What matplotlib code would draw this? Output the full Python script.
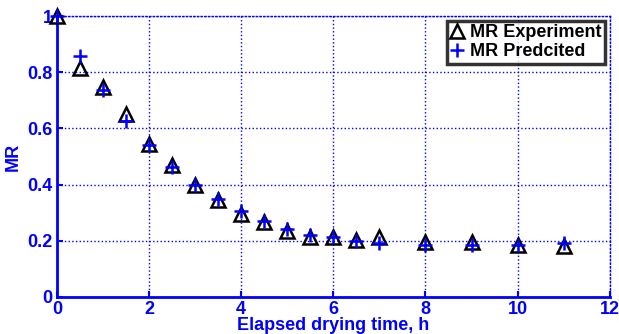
import matplotlib.pyplot as plt
import numpy as np

plt.rcParams['font.family'] = ['Liberation Sans', 'DejaVu Sans']
plt.rcParams['font.weight'] = 'bold'

#%% data
time_h = [0, 0.5, 1, 1.5, 2, 2.5, 3, 3.5, 4, 4.5, 5, 5.5, 6, 6.5, 7, 8, 9, 10, 11]
mr_exp = [1.0, 0.814, 0.746, 0.653, 0.543, 0.468, 0.40, 0.344, 0.296, 0.265,
          0.236, 0.215, 0.215, 0.204, 0.214, 0.196, 0.195, 0.186, 0.182]
mr_pred = [1.0, 0.857, 0.737, 0.625, 0.540, 0.464, 0.40, 0.350, 0.305, 0.270,
           0.243, 0.221, 0.212, 0.198, 0.193, 0.186, 0.186, 0.186, 0.193]

blue = '#0000FF'

fig = plt.figure(figsize=(6.19, 3.34), dpi=100)
ax = fig.add_axes([0.092, 0.111, 0.893, 0.841])

ax.plot(time_h, mr_exp, linestyle='none', marker='^', markersize=10,
        markerfacecolor='none', markeredgecolor='k', markeredgewidth=1.8,
        label='MR Experiment', clip_on=False, zorder=3)
ax.plot(time_h, mr_pred, linestyle='none', marker='+', markersize=10,
        markeredgecolor=blue, markeredgewidth=1.8, label='MR Predcited',
        clip_on=False, zorder=4)

ax.set_xlim(0, 12)
ax.set_ylim(0, 1)
ax.set_xticks(np.arange(0, 13, 2))
ax.set_yticks([0, 0.2, 0.4, 0.6, 0.8, 1])
ax.set_yticklabels(['0', '0.2', '0.4', '0.6', '0.8', '1'])
ax.grid(True, color=blue, linestyle=':', linewidth=1)

for s in ['left', 'bottom']:
    ax.spines[s].set_color(blue)
    ax.spines[s].set_linewidth(2)
for s in ['top', 'right']:
    ax.spines[s].set_color(blue)
    ax.spines[s].set_linestyle(':')
    ax.spines[s].set_linewidth(1)

ax.tick_params(axis='both', direction='in', colors=blue, labelsize=13,
               length=4, width=1.5)
ax.tick_params(axis='x', pad=3)
ax.tick_params(axis='y', pad=3)
plt.setp(ax.get_xticklabels() + ax.get_yticklabels(), fontweight='bold')

ax.set_xlabel('Elapsed drying time, h', fontsize=13, fontweight='bold',
              color=blue, labelpad=-1)
ax.set_ylabel('MR', fontsize=13, fontweight='bold', color=blue, labelpad=4)

leg = ax.legend(loc='upper right', fontsize=13, frameon=True, fancybox=False,
                handlelength=0.8, handletextpad=0.3, borderpad=0.2,
                labelspacing=0.1, borderaxespad=0.25)
leg.get_frame().set_edgecolor('k')
leg.get_frame().set_linewidth(2.5)
for t in leg.get_texts():
    t.set_fontweight('bold')

plt.savefig('out.png', dpi=100)
